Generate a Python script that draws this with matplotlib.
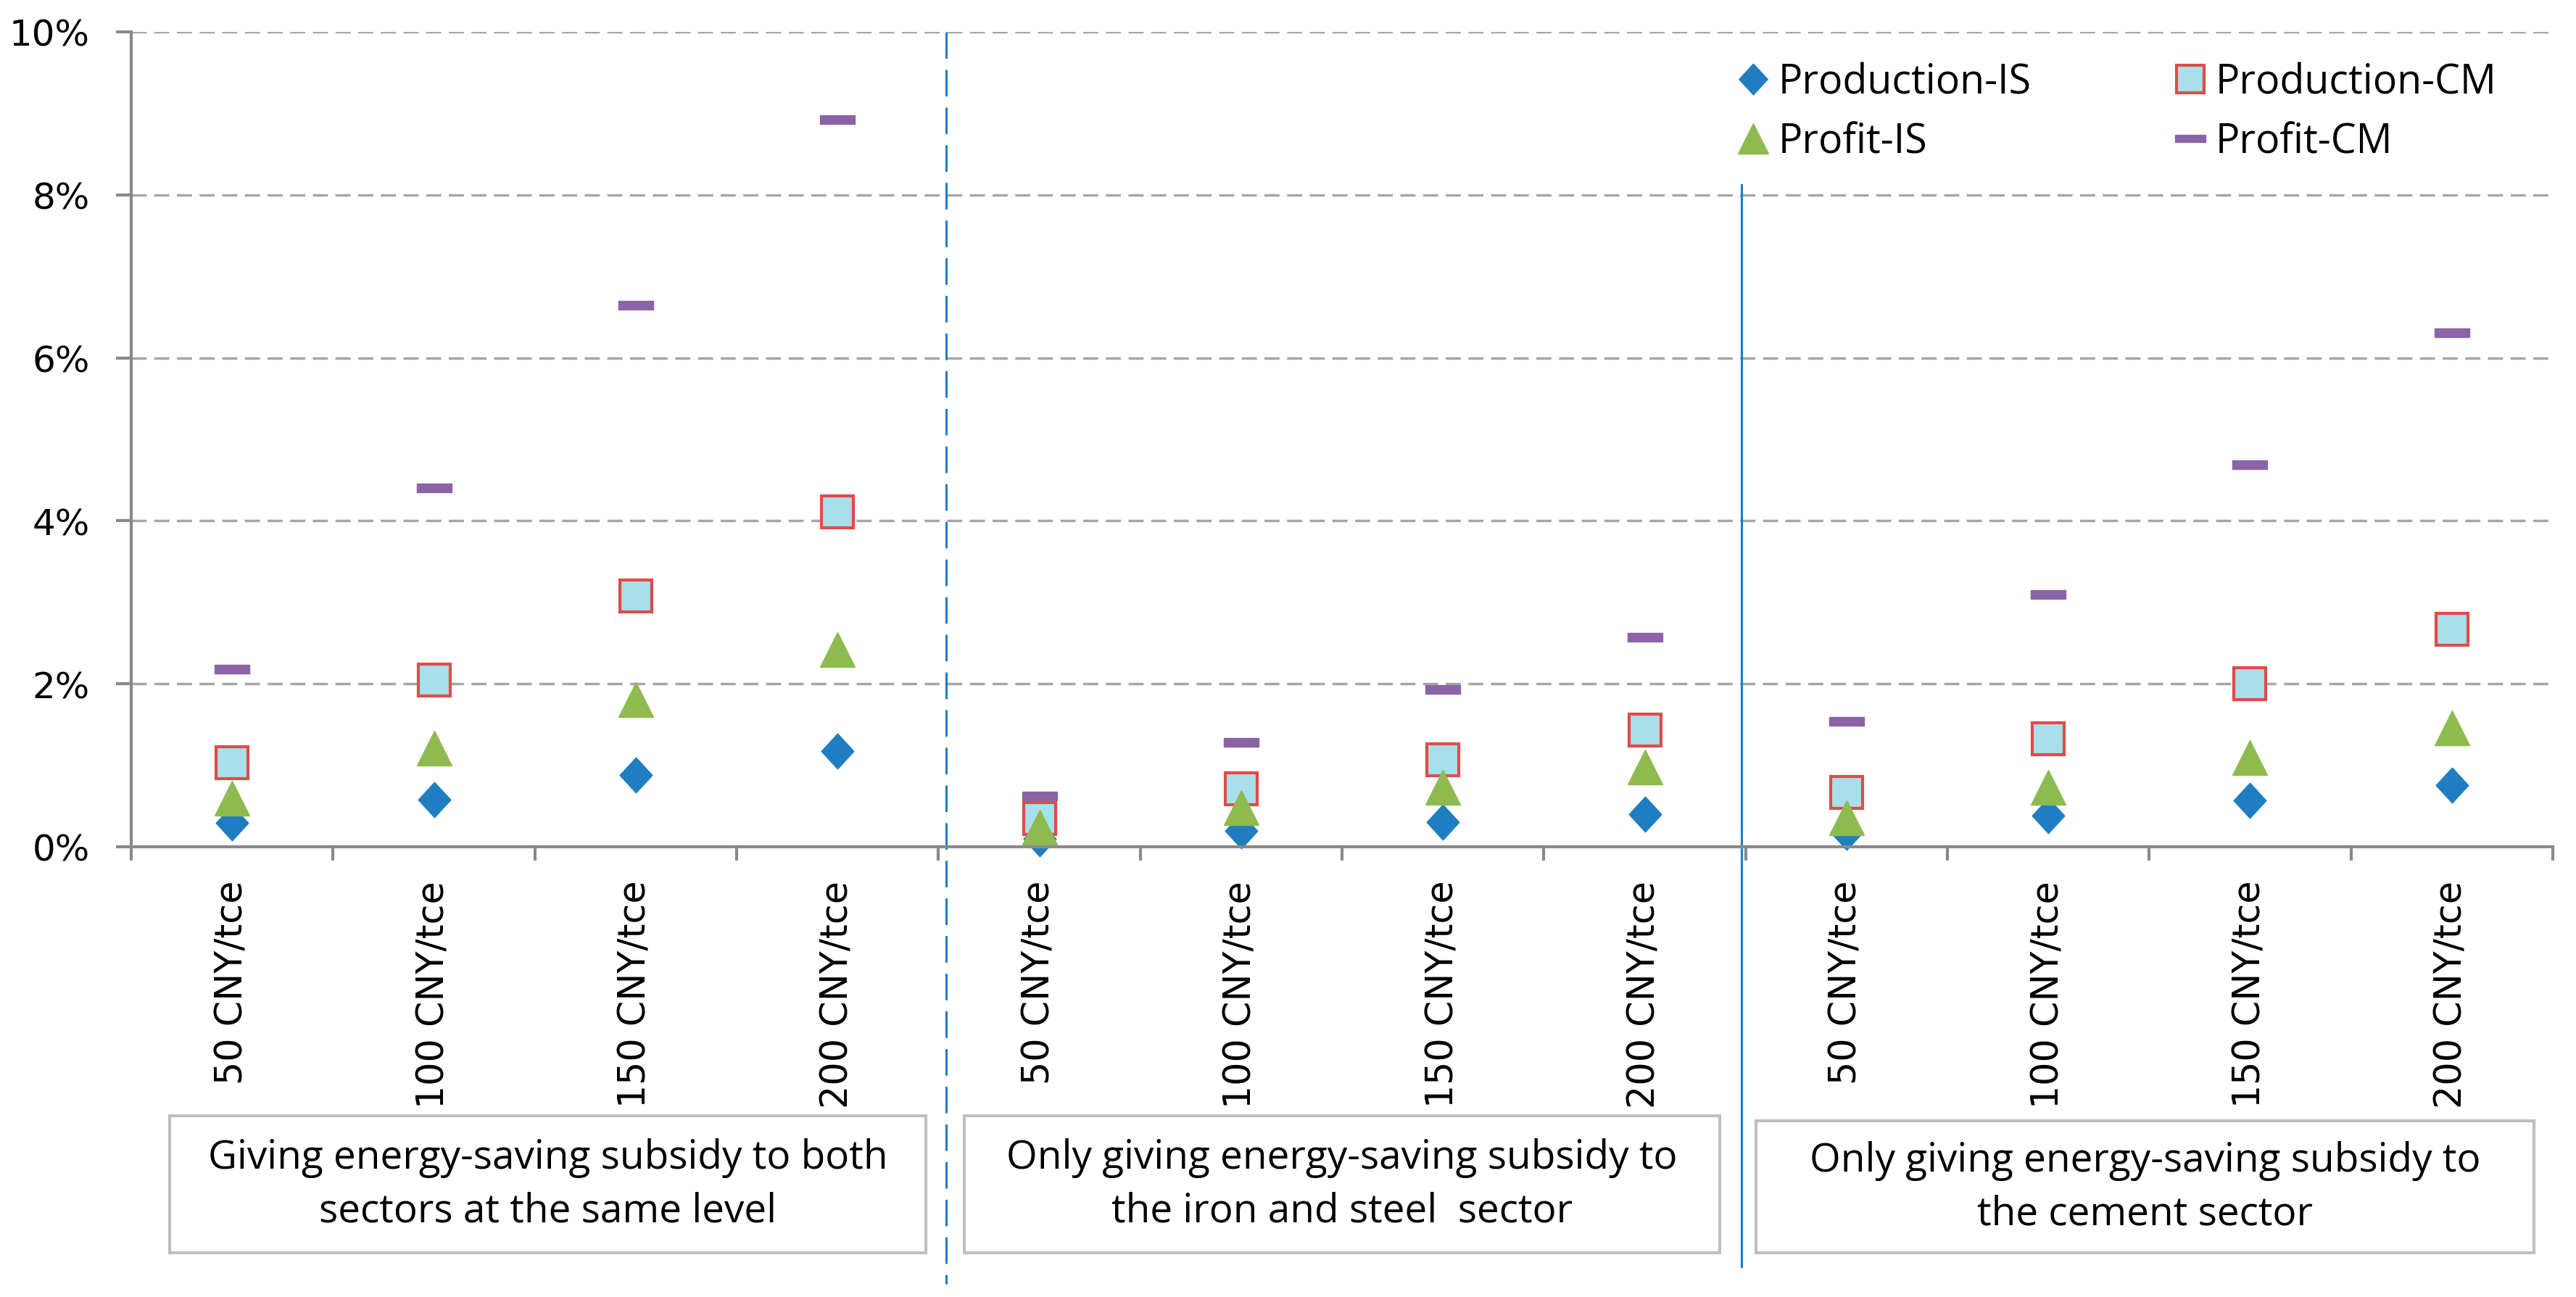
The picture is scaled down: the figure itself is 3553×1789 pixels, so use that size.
import numpy as np
import matplotlib
matplotlib.use('Agg')
import matplotlib.pyplot as plt
from matplotlib.patches import Rectangle
from matplotlib.ticker import FixedLocator, FuncFormatter


# chart data (values in %)
categories = ['50 CNY/tce', '100 CNY/tce', '150 CNY/tce', '200 CNY/tce'] * 3
scenarios = ['Giving energy-saving subsidy to both\nsectors at the same level',
             'Only giving energy-saving subsidy to\nthe iron and steel  sector',
             'Only giving energy-saving subsidy to\nthe cement sector']

production_is = [0.29, 0.58, 0.88, 1.17, 0.10, 0.20, 0.30, 0.40, 0.18, 0.38, 0.57, 0.76]
production_cm = [1.03, 2.05, 3.08, 4.11, 0.35, 0.71, 1.07, 1.43, 0.67, 1.33, 2.00, 2.67]
profit_is = [0.60, 1.21, 1.81, 2.42, 0.24, 0.48, 0.73, 0.98, 0.36, 0.73, 1.09, 1.46]
profit_cm = [2.18, 4.40, 6.65, 8.92, 0.62, 1.28, 1.93, 2.57, 1.54, 3.10, 4.69, 6.31]

y_ticks = [0, 2, 4, 6, 8, 10]

# colours
c_blue = '#1F7EC1'
c_green = '#8DBB4F'
c_purple = '#8A64A6'
c_fill = '#A9DFEA'
c_edge = '#E04B4A'
c_axis = '#898989'
c_grid = '#A6A6A6'
c_sep = '#1A7FC6'
c_box = '#BFBFBF'

text_font = ['Open Sans', 'DejaVu Sans']
tick_font = ['DejaVu Sans']

W, H = 3553, 1790
fig = plt.figure(figsize=(W / 100, H / 100), dpi=100)
x0, x1, y_top, y_bot = 181, 3521, 45, 1169
ax = fig.add_axes([x0 / W, 1 - y_bot / H, (x1 - x0) / W, (y_bot - y_top) / H])

x = np.arange(len(categories))

diamond = [(0, 1), (0.92, 0), (0, -1), (-0.92, 0), (0, 1)]
dash = [(-1, -0.25), (1, -0.25), (1, 0.25), (-1, 0.25), (-1, -0.25)]

h1, = ax.plot(x, production_is, linestyle='none', marker=diamond, ms=35,
              mfc=c_blue, mec=c_blue, mew=1, label='Production-IS', clip_on=False)
h2, = ax.plot(x, production_cm, linestyle='none', marker='s', ms=31,
              mfc=c_fill, mec=c_edge, mew=3, label='Production-CM', clip_on=False)
h3, = ax.plot(x, profit_is, linestyle='none', marker='^', ms=34,
              mfc=c_green, mec=c_green, mew=1, label='Profit-IS', clip_on=False)
h4, = ax.plot(x, profit_cm, linestyle='none', marker=dash, ms=34,
              mfc=c_purple, mec=c_purple, mew=1, label='Profit-CM', clip_on=False)

ax.set_xlim(-0.5, len(categories) - 0.5)
ax.set_ylim(0, 10)

# axes styling (Excel look)
for s in ['top', 'right']:
    ax.spines[s].set_visible(False)
for s in ['left', 'bottom']:
    ax.spines[s].set_color(c_axis)
    ax.spines[s].set_linewidth(3)

ax.set_yticks(y_ticks)
ax.yaxis.set_major_formatter(FuncFormatter(lambda v, p: '%d%%' % v))
ax.tick_params(axis='y', length=15, width=3, color=c_axis, pad=26, labelsize=36)
for lab in ax.get_yticklabels():
    lab.set_family(tick_font)
ax.yaxis.grid(True, color=c_grid, linewidth=2.5, linestyle=(0, (6, 3)))
ax.set_axisbelow(True)

ax.set_xticks(x)
ax.set_xticklabels(categories, rotation=90, fontsize=36.5, family=tick_font)
ax.xaxis.set_minor_locator(FixedLocator(np.arange(-0.5, len(categories), 1)))
ax.tick_params(axis='x', which='major', length=0, pad=33)
ax.tick_params(axis='x', which='minor', length=14, width=3, color=c_axis)

# separators between scenarios
tr = ax.get_xaxis_transform()
def frac(py):
    return (y_bot - py) / (y_bot - y_top)

ax.plot([3.54, 3.54], [frac(45), frac(1772)], transform=tr, color=c_sep,
        lw=2.2, linestyle=(0, (12, 5)), clip_on=False)
ax.plot([7.48, 7.48], [frac(256), frac(1748)], transform=tr, color=c_sep,
        lw=2.2, clip_on=False)

# scenario boxes
def dx(px):
    return (px - x0) / ((x1 - x0) / len(categories)) - 0.5

boxes = [(234, 1277, 1540, 1729), (1330, 2372, 1540, 1729), (2422, 3495, 1547, 1729)]
for (bl, br, bt, bb), txt in zip(boxes, scenarios):
    ax.add_patch(Rectangle((dx(bl), frac(bb)), dx(br) - dx(bl), frac(bt) - frac(bb),
                           transform=tr, fill=False, edgecolor=c_box, lw=3,
                           clip_on=False))
    ax.text((dx(bl) + dx(br)) / 2, (frac(bt) + frac(bb)) / 2, txt, transform=tr,
            ha='center', va='center', multialignment='center', fontsize=39.5,
            family=text_font, linespacing=1.45)

leg = ax.legend([h1, h3, h2, h4], ['Production-IS', 'Profit-IS', 'Production-CM', 'Profit-CM'],
                ncol=2, loc='upper left', bbox_to_anchor=(0.6565, 0.988),
                frameon=False, borderpad=0, handlelength=0.6, handletextpad=0.32,
                columnspacing=3.65, labelspacing=0.45, markerscale=0.88,
                prop={'family': text_font, 'size': 40})

fig.savefig('out.png', dpi=100, facecolor='white')
